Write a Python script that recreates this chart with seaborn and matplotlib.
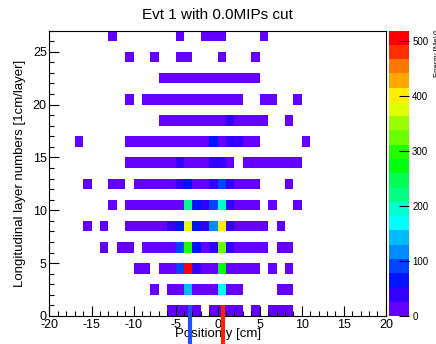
import colorsys
import numpy as np
import matplotlib
matplotlib.use("Agg")
import matplotlib.pyplot as plt
from matplotlib.colors import ListedColormap
from matplotlib.ticker import MultipleLocator
import seaborn as sns

'''DATA'''
# energy deposits [MeV] per hit layer; pos = lower edge of the 1 cm cell
layer0_pos = [-6, -5, -4, -3, -1, 0, 1, 2, 4, 6, 7, 8]
layer0_e = [8, 14, 20, 11, 16, 22, 12, 7, 5, 9, 10, 6]
layer2_pos = [-8, -6, -5, -4, -3, -2, -1, 0, 1, 2, 7, 8]
layer2_e = [6, 12, 18, 150, 21, 15, 19, 172, 17, 9, 7, 10]
layer4_pos = [-10, -9, -7, -6, -5, -4, -3, -2, -1, 0, 1, 2, 3, 4, 6, 8]
layer4_e = [6, 9, 11, 19, 92, 519, 45, 22, 24, 275, 21, 15, 12, 8, 7, 5]
layer6_pos = [-14, -12, -11, -9, -8, -7, -6, -5, -4, -3, -2, -1, 0, 1, 2, 3, 4, 5, 7, 8]
layer6_e = [5, 8, 6, 10, 13, 15, 22, 95, 300, 66, 24, 38, 330, 41, 18, 14, 11, 9, 6, 8]
layer8_pos = [-16, -14, -11, -10, -9, -8, -7, -6, -5, -4, -3, -2, -1, 0, 1, 2, 3, 4, 5, 7]
layer8_e = [5, 7, 9, 11, 14, 16, 20, 36, 70, 385, 60, 42, 112, 410, 44, 23, 17, 12, 8, 6]
layer10_pos = [-13, -11, -10, -9, -8, -7, -6, -5, -4, -3, -2, -1, 0, 1, 2, 3, 4, 6, 9]
layer10_e = [6, 8, 10, 12, 15, 18, 21, 24, 228, 63, 40, 80, 200, 38, 19, 13, 9, 7, 5]
layer12_pos = [-16, -13, -12, -10, -9, -8, -7, -6, -5, -4, -3, -2, -1, 0, 1, 2, 3, 4, 8]
layer12_e = [5, 7, 9, 10, 12, 14, 16, 20, 45, 70, 22, 24, 47, 95, 42, 18, 13, 9, 6]
layer14_pos = [-11, -10, -9, -8, -7, -6, -5, -4, -3, -2, -1, 0, 1, 3, 4, 5, 6, 7, 8, 9]
layer14_e = [6, 8, 10, 12, 14, 17, 43, 22, 19, 23, 48, 50, 21, 16, 13, 11, 9, 8, 6, 5]
layer16_pos = [-17, -11, -10, -9, -8, -7, -6, -5, -4, -3, -2, -1, 0, 1, 2, 3, 4, 10]
layer16_e = [5, 7, 9, 10, 12, 14, 16, 19, 22, 20, 24, 68, 23, 40, 45, 15, 10, 6]
layer18_pos = [-7, -6, -5, -4, -3, -2, -1, 0, 1, 2, 3, 4, 5, 8]
layer18_e = [7, 9, 11, 13, 15, 17, 20, 22, 39, 16, 12, 9, 7, 5]
layer20_pos = [-11, -9, -8, -7, -6, -5, -4, -3, -2, -1, 0, 1, 2, 5, 6, 9]
layer20_e = [5, 6, 8, 10, 11, 13, 15, 14, 17, 16, 13, 12, 9, 7, 6, 5]
layer22_pos = [-7, -6, -5, -4, -3, -2, -1, 0, 1, 2, 3, 4]
layer22_e = [6, 8, 10, 12, 11, 14, 13, 12, 10, 9, 7, 5]
layer24_pos = [-11, -8, -5, -4, 0, 4]
layer24_e = [5, 6, 8, 7, 9, 5]
layer26_pos = [-13, -5, -2, -1, 0, 5]
layer26_e = [5, 6, 7, 9, 6, 5]

hit_layers = [0, 2, 4, 6, 8, 10, 12, 14, 16, 18, 20, 22, 24, 26]
layer_pos = [layer0_pos, layer2_pos, layer4_pos, layer6_pos, layer8_pos, layer10_pos, layer12_pos,
             layer14_pos, layer16_pos, layer18_pos, layer20_pos, layer22_pos, layer24_pos, layer26_pos]
layer_e = [layer0_e, layer2_e, layer4_e, layer6_e, layer8_e, layer10_e, layer12_e,
           layer14_e, layer16_e, layer18_e, layer20_e, layer22_e, layer24_e, layer26_e]

# beam markers below the histogram [cm]
blue_marker_x = -3.33
red_marker_x = 0.6

x_edges = np.arange(-20, 21)
y_edges = np.arange(0, 28)

'''BUILD TABLE'''
xs, ys, ws = [], [], []
for lay, pos, en in zip(hit_layers, layer_pos, layer_e):
    for p, e in zip(pos, en):
        xs.append(p + 0.5)
        ys.append(lay + 0.5)
        ws.append(e)

# old ROOT "pretty" palette, 20 contour levels
n_levels = 20
colors = []
for j in range(n_levels):
    i = int((j + 0.99) * 50 / n_levels)
    hue = 280 - (i + 1) * 280 / 50
    colors.append(colorsys.hls_to_rgb(hue / 360, 0.5, 1.0))
cmap = ListedColormap(colors)

'''PLOT'''
plt.rcParams["font.family"] = ["Liberation Sans", "DejaVu Sans"]
plt.rcParams["axes.unicode_minus"] = False
fig = plt.figure(figsize=(4.36, 3.44), dpi=100)
ax = fig.add_axes([0.1135, 0.0814, 0.7715, 0.8297])
cax = fig.add_axes([0.893, 0.0814, 0.046, 0.8297])

sns.histplot(x=xs, y=ys, weights=ws, bins=[x_edges, y_edges], cmap=cmap,
             vmin=0, vmax=max(ws), cbar=True, cbar_ax=cax, ax=ax)

for mx, col in [(blue_marker_x, "#2050ff"), (red_marker_x, "#ff2000")]:
    ax.plot([mx, mx], [1, -3], color=col, lw=3, solid_capstyle="butt",
            clip_on=False, zorder=10)

ax.set_xlim(-20, 20)
ax.set_ylim(0, 27)
ax.xaxis.set_major_locator(MultipleLocator(5))
ax.xaxis.set_minor_locator(MultipleLocator(1))
ax.yaxis.set_major_locator(MultipleLocator(5))
ax.yaxis.set_minor_locator(MultipleLocator(1))
ax.tick_params(which="major", direction="in", length=7, width=0.8, labelsize=9, pad=2)
ax.tick_params(which="minor", direction="in", length=3.6, width=0.8)
for sp in ax.spines.values():
    sp.set_linewidth(0.8)

ax.set_title("Evt 1 with 0.0MIPs cut", fontsize=11, pad=8)
ax.set_xlabel("Position y [cm]", fontsize=9.5)
ax.xaxis.set_label_coords(0.5, -0.042)
ax.set_ylabel("Longitudinal layer numbers [1cm/layer]", fontsize=9.5)
ax.yaxis.set_label_coords(-0.07, 0.5)

cbar = ax.collections[0].colorbar
cbar.outline.set_visible(False)
cbar.set_ticks([0, 100, 200, 300, 400, 500])
cax.tick_params(direction="in", length=7, width=0.8, labelsize=7, pad=2)
fig.text(1.004, 0.913, "Energy [MeV]", rotation=90, ha="center", va="top", fontsize=5.6)

plt.savefig("out.png", dpi=100)
